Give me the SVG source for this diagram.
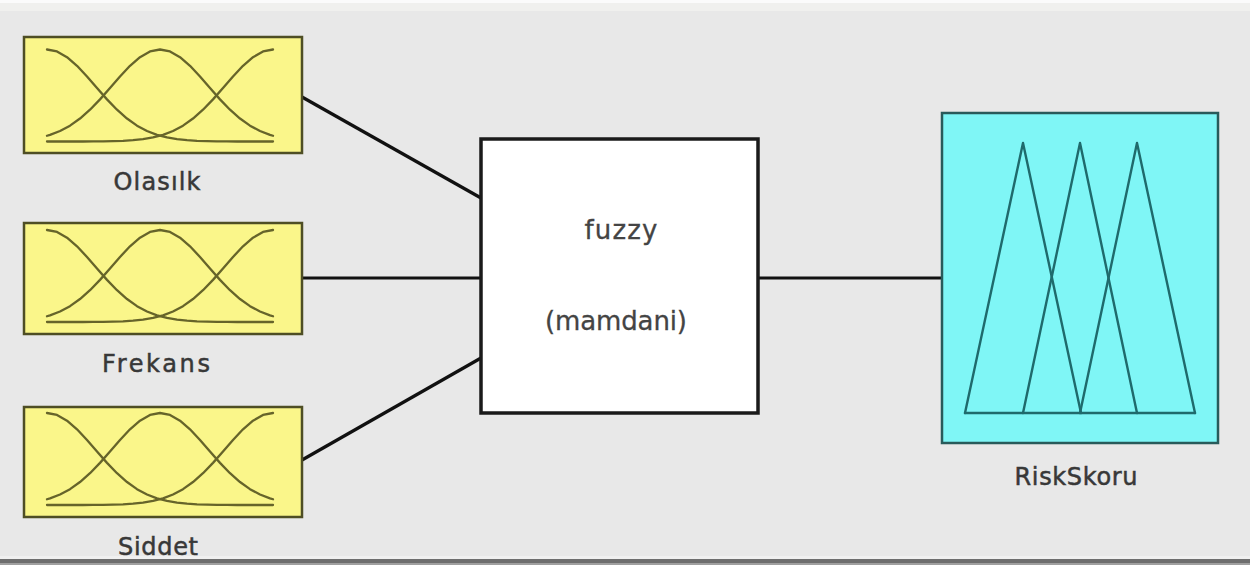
<svg xmlns="http://www.w3.org/2000/svg" width="1250" height="565" viewBox="0 0 1250 565">
  <style>
    .in-box { fill: #faf68a; stroke: #4e4e24; stroke-width: 2.5; }
    .out-box { fill: #7ff6f6; stroke: #285a5a; stroke-width: 2.5; }
    .sys-box { fill: #ffffff; stroke: #1a1a1a; stroke-width: 3.5; }
    .mf-in { fill: none; stroke: #66642a; stroke-width: 2.3; stroke-linejoin: round; stroke-linecap: round; }
    .mf-out { fill: none; stroke: #1f6a6c; stroke-width: 2.4; stroke-linejoin: round; stroke-linecap: round; }
    .wire { fill: none; stroke: #111111; stroke-width: 3.2; }
    .label { font-family: "DejaVu Sans", "Liberation Sans", sans-serif; font-size: 24px; fill: #383838; stroke: #383838; stroke-width: 0.5; text-anchor: middle; }
    .sys-text { font-family: "DejaVu Sans", "Liberation Sans", sans-serif; font-size: 26px; fill: #444444; stroke: #444444; stroke-width: 0.3; text-anchor: middle; }
  </style>
  <defs>
    <!-- three gaussian membership functions, local frame 226 x 92 -->
    <g id="gauss3">
      <path class="mf-in" d="M0,0 L10,1.98 L20,7.65 L30,16.32 L40,26.98 L50,38.52 L60,49.87 L70,60.23 L80,69.06 L90,76.14 L100,81.5 L110,85.34 L120,87.96 L130,89.65 L140,90.69 L150,91.3 L160,91.64 L170,91.83 L180,91.92 L190,92 L226,92"/>
      <path class="mf-in" d="M0,86.24 L3,85.34 L13,81.5 L23,76.14 L33,69.06 L43,60.23 L53,49.87 L63,38.52 L73,26.98 L83,16.32 L93,7.65 L103,1.98 L113,0 L123,1.98 L133,7.65 L143,16.32 L153,26.98 L163,38.52 L173,49.87 L183,60.23 L193,69.06 L203,76.14 L213,81.5 L223,85.34 L226,86.24"/>
      <path class="mf-in" d="M226,0 L216,1.98 L206,7.65 L196,16.32 L186,26.98 L176,38.52 L166,49.87 L156,60.23 L146,69.06 L136,76.14 L126,81.5 L116,85.34 L106,87.96 L96,89.65 L86,90.69 L76,91.3 L66,91.64 L56,91.83 L46,91.92 L36,92 L0,92"/>
    </g>
  </defs>

  <!-- window background -->
  <rect x="0" y="0" width="1250" height="565" fill="#e8e8e8"/>
  <rect x="0" y="0" width="1250" height="3" fill="#fbfbfb"/>
  <rect x="0" y="3" width="1250" height="8" fill="#f0f0ee"/>
  <rect x="0" y="556" width="1250" height="3" fill="#f0f0f0"/>
  <rect x="0" y="559" width="1250" height="4" fill="#6e6e6e"/>
  <rect x="0" y="563" width="1250" height="2" fill="#a0a0a0"/>

  <!-- connectors -->
  <g id="connectors">
    <line class="wire" x1="302" y1="97" x2="481" y2="198"/>
    <line class="wire" x1="302" y1="278" x2="481" y2="278"/>
    <line class="wire" x1="302" y1="460" x2="481" y2="358"/>
    <line class="wire" x1="758" y1="278" x2="942" y2="278"/>
  </g>

  <g id="input-olasilk">
    <rect class="in-box" x="24" y="37" width="278" height="116"/>
    <use href="#gauss3" transform="translate(47,49.5)"/>
    <text class="label" x="157" y="190" textLength="87">Olasılk</text>
  </g>

  <g id="input-frekans">
    <rect class="in-box" x="24" y="223" width="278" height="111"/>
    <use href="#gauss3" transform="translate(47,230)"/>
    <text class="label" x="156" y="372" textLength="108">Frekans</text>
  </g>

  <g id="input-siddet">
    <rect class="in-box" x="24" y="407" width="278" height="110"/>
    <use href="#gauss3" transform="translate(47,413)"/>
    <text class="label" x="158" y="555" textLength="80">Siddet</text>
  </g>

  <g id="system-fuzzy">
    <rect class="sys-box" x="481" y="139" width="277" height="274"/>
    <text class="sys-text" x="621" y="239" textLength="73">fuzzy</text>
    <text class="sys-text" x="616" y="330" textLength="142">(mamdani)</text>
  </g>

  <g id="output-riskskoru">
    <rect class="out-box" x="942" y="113" width="276" height="330"/>
    <polyline class="mf-out" points="965,413 1023,143 1081,413"/>
    <polyline class="mf-out" points="1023,413 1080,143 1137,413"/>
    <polyline class="mf-out" points="1080,413 1137,143 1195,413"/>
    <line class="mf-out" x1="965" y1="413" x2="1195" y2="413"/>
    <text class="label" x="1076" y="485" textLength="123">RiskSkoru</text>
  </g>
</svg>
